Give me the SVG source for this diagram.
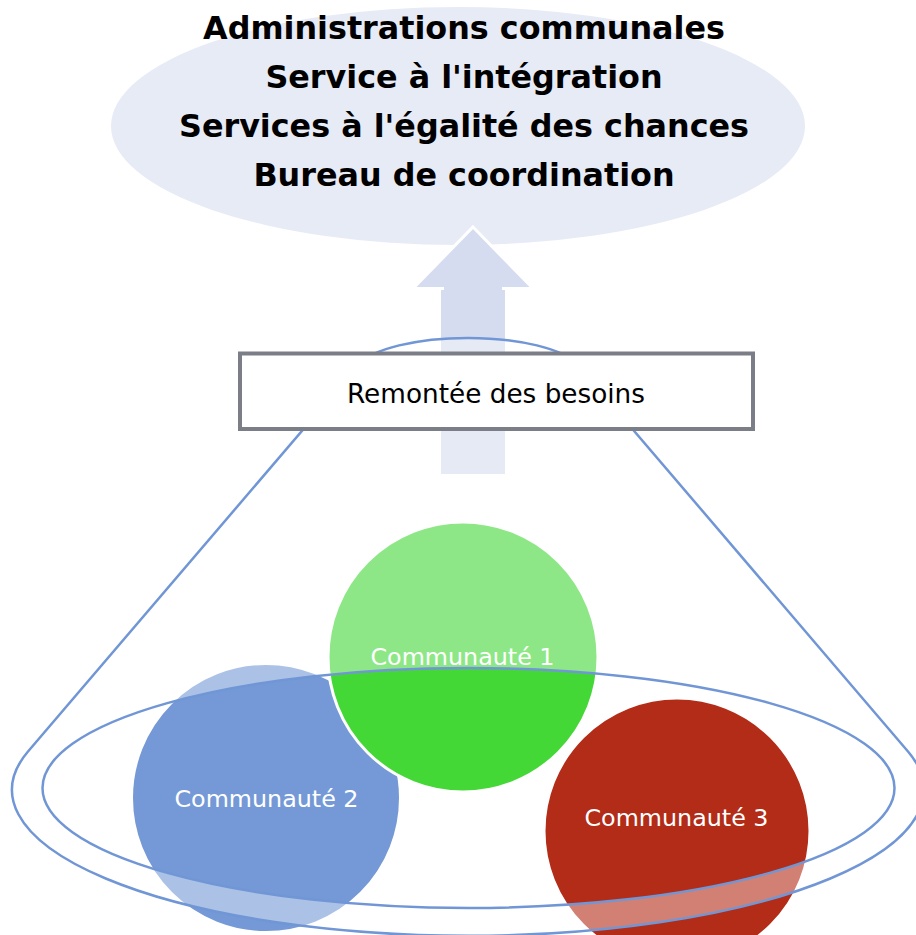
<svg xmlns="http://www.w3.org/2000/svg" width="916" height="935" viewBox="0 0 916 935">
  <style>
    .title { font-family: "DejaVu Sans", Verdana, sans-serif; font-weight: bold; font-size: 31.8px; fill: #000; text-anchor: middle; }
    .lbl { font-family: "DejaVu Sans", Verdana, sans-serif; font-size: 23.8px; fill: #fff; text-anchor: middle; }
    .box { font-family: "DejaVu Sans", Verdana, sans-serif; font-size: 26.3px; fill: #000; text-anchor: middle; }
    .circ { stroke: #fff; stroke-width: 3; }
    .line { fill: none; stroke: #7196d6; stroke-width: 2.5; }
  </style>
  <rect width="916" height="935" fill="#fff"/>
  <g id="top">
    <ellipse cx="458" cy="126" rx="347" ry="119" fill="#e7ebf6"/>
    <text class="title" x="464" y="38.5">Administrations communales</text>
    <text class="title" x="464" y="88">Service à l'intégration</text>
    <text class="title" x="464" y="137">Services à l'égalité des chances</text>
    <text class="title" x="464" y="185.5">Bureau de coordination</text>
  </g>
  <g id="connectors">
    <polygon points="473,227 533,288.5 503.5,288.5 503.5,473 442.5,473 442.5,288.5 413,288.5" fill="#d5dcef" stroke="#fff" stroke-width="3" stroke-linejoin="miter"/>
    <rect x="441" y="290" width="64" height="184" fill="#d5dcef"/>
  </g>
  <g id="c2">
    <circle class="circ" cx="266" cy="798" r="134.5" fill="#7499d6"/>
    <text class="lbl" x="266.5" y="807">Communauté 2</text>
  </g>
  <g id="c1">
    <circle class="circ" cx="463" cy="657" r="135" fill="#44d836"/>
    <text class="lbl" x="462.5" y="665">Communauté 1</text>
  </g>
  <g id="c3">
    <circle class="circ" cx="677" cy="831" r="133" fill="#b22c17"/>
    <text class="lbl" x="676.5" y="826">Communauté 3</text>
  </g>
  <g id="cone">
    <path d="M358.5 364.7 A113.5 36.3 0 0 1 577.5 364.7 L908 751.5 A456 146 0 1 1 28 751.5 Z M42.5 788 A426 120 0 1 0 894.5 788 A426 120 0 1 0 42.5 788 Z" fill="#fff" fill-opacity="0.4" fill-rule="evenodd"/>
    <path class="line" d="M358.5 364.7 A113.5 36.3 0 0 1 577.5 364.7 L908 751.5 A456 146 0 1 1 28 751.5 Z"/>
    <ellipse class="line" cx="468.5" cy="788" rx="426" ry="120"/>
  </g>
  <g id="label">
    <rect x="240" y="353.5" width="513" height="75.5" fill="#fff" stroke="#7b7e86" stroke-width="4"/>
    <text class="box" x="496" y="403">Remontée des besoins</text>
  </g>
</svg>
